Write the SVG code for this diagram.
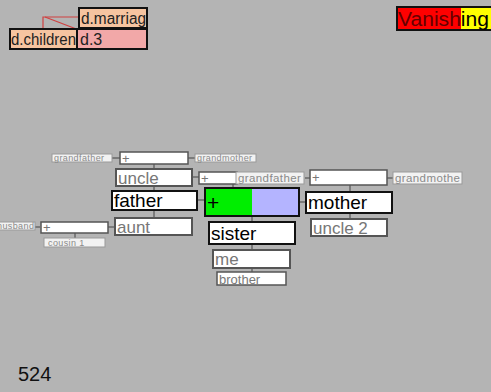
<svg xmlns="http://www.w3.org/2000/svg" width="491" height="392" viewBox="0 0 491 392">
<style>
text{font-family:"Liberation Sans",Arial,sans-serif}
.c line,.c polyline{stroke:#555;stroke-width:1.2;fill:none}
.lbl rect{fill:#f2f2f2;stroke:#999;stroke-width:1}
.lbl text{font-size:9px;fill:#8a8a8a;letter-spacing:0.4px}
.g rect{fill:#fff;stroke:#555;stroke-width:2}
.g text{fill:#777;font-size:17px}
.p rect{fill:#fff;stroke:#555;stroke-width:1.5}
.p text{fill:#777;font-size:13px}
.s rect{fill:#fff;stroke:#111;stroke-width:2}
.s text{fill:#000;font-size:19px}
</style>
<rect x="0" y="0" width="491" height="392" fill="#b4b4b4"/>
<g class="c" id="connectors">
<polyline points="43,29 43,17 79,17" style="stroke:#d04040"/>
<line x1="45" y1="17" x2="79" y2="30" style="stroke:#d04040"/>
<line x1="112" y1="158" x2="120" y2="158"/>
<line x1="188" y1="158" x2="195" y2="158"/>
<line x1="154" y1="164" x2="154" y2="218"/>
<line x1="192" y1="177" x2="199" y2="177"/>
<line x1="233" y1="183" x2="233" y2="188"/>
<line x1="305" y1="178" x2="310" y2="178"/>
<line x1="387" y1="178" x2="393" y2="178"/>
<line x1="350" y1="185" x2="350" y2="219"/>
<line x1="197" y1="200" x2="205" y2="200"/>
<line x1="299" y1="202" x2="306" y2="202"/>
<line x1="252" y1="216" x2="252" y2="272"/>
<line x1="35" y1="227" x2="40" y2="227"/>
<line x1="108" y1="227" x2="115" y2="227"/>
<line x1="75" y1="233" x2="75" y2="238"/>
</g>
<g id="d-marriage"><rect x="79" y="8" width="68" height="20" fill="#f6c4a0" stroke="#111" stroke-width="2"/><text x="81" y="24" font-size="16" fill="#222" textLength="65" lengthAdjust="spacingAndGlyphs">d.marriag</text></g>
<g id="d-children"><rect x="10" y="29" width="67" height="20" fill="#f6c4a0" stroke="#111" stroke-width="2"/><text x="11" y="45" font-size="16" fill="#222" textLength="65" lengthAdjust="spacingAndGlyphs">d.children</text></g>
<g id="d-3"><rect x="77" y="29" width="70" height="20" fill="#f2a8a8" stroke="#111" stroke-width="2"/><text x="80" y="45" font-size="16" fill="#222">d.3</text></g>
<g id="vanishing"><rect x="397" y="7" width="94" height="23" fill="#ff0000" stroke="#111" stroke-width="2"/><rect x="461" y="8" width="30" height="21" fill="#ffff00"/><text x="398" y="26" font-size="20" textLength="91" lengthAdjust="spacingAndGlyphs"><tspan fill="#600">Vanish</tspan><tspan fill="#000">ing</tspan></text></g>
<g id="grandfather1" class="lbl"><rect x="52" y="154" width="60" height="8"/><text x="54" y="161">grandfather</text></g>
<g id="plus1" class="p"><rect x="120" y="152" width="68" height="12"/><text x="122" y="163">+</text></g>
<g id="grandmother1" class="lbl"><rect x="195" y="154" width="61" height="8"/><text x="197" y="161">grandmother</text></g>
<g id="uncle" class="g"><rect x="116" y="169" width="76" height="17"/><text x="118" y="184">uncle</text></g>
<g id="plus2" class="p"><rect x="199" y="172" width="38" height="12"/><text x="201" y="183">+</text></g>
<g id="grandfather2" class="lbl"><rect x="236" y="172" width="68" height="12"/><text x="238" y="182" style="font-size:11.5px">grandfather</text></g>
<g id="plus3" class="p"><rect x="310" y="170" width="77" height="15"/><text x="312" y="182">+</text></g>
<g id="grandmother2" class="lbl"><rect x="393" y="172" width="69" height="12"/><text x="395" y="182" style="font-size:11.5px">grandmothe</text></g>
<g id="father" class="s"><rect x="112" y="191" width="85" height="19"/><text x="114" y="207">father</text></g>
<g id="couple"><rect x="205" y="188" width="47" height="28" fill="#00ee00"/><rect x="252" y="188" width="47" height="28" fill="#b4b4ff"/><rect x="205" y="188" width="94" height="28" fill="none" stroke="#111" stroke-width="2"/><text x="207" y="210" font-size="21" fill="#000">+</text></g>
<g id="mother" class="s"><rect x="306" y="192" width="86" height="21"/><text x="308" y="209">mother</text></g>
<g id="aunt" class="g"><rect x="115" y="218" width="77" height="17"/><text x="117" y="233">aunt</text></g>
<g id="uncle2" class="g"><rect x="311" y="219" width="76" height="17"/><text x="313" y="234">uncle 2</text></g>
<g id="husband" class="lbl"><rect x="-2" y="222" width="37" height="8"/><text x="-3" y="229">husband</text></g>
<g id="plus4" class="p"><rect x="41" y="222" width="67" height="11"/><text x="43" y="232">+</text></g>
<g id="cousin1" class="lbl"><rect x="44" y="238" width="61" height="9"/><text x="48" y="246">cousin 1</text></g>
<g id="sister" class="s"><rect x="209" y="222" width="86" height="22"/><text x="211" y="240">sister</text></g>
<g id="me" class="g"><rect x="213" y="250" width="77" height="18"/><text x="215" y="265">me</text></g>
<g id="brother" class="p"><rect x="217" y="272" width="69" height="13"/><text x="219" y="284">brother</text></g>
<text x="18" y="381" font-size="20" fill="#111">524</text>
</svg>
